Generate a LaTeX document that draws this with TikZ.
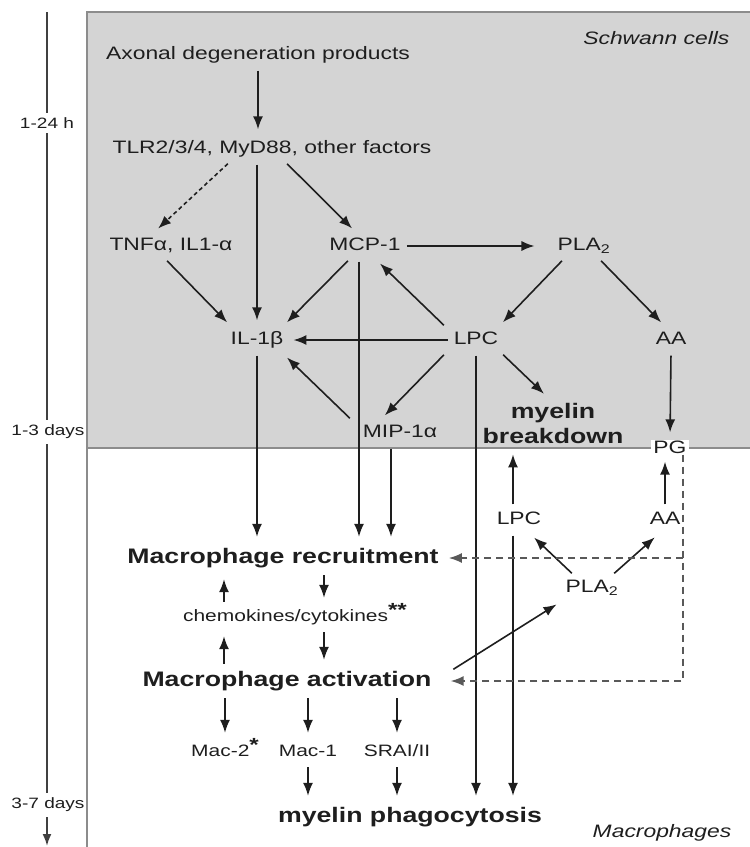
\documentclass[tikz,border=0pt]{standalone}
\usepackage{fontspec}
\setmainfont[FakeStretch=1.27]{Liberation Sans}
\usetikzlibrary{arrows.meta}
\definecolor{cellgray}{HTML}{D4D4D4}
\definecolor{edgegray}{HTML}{8C8C8C}
\definecolor{inkgray}{HTML}{1E1E1E}
\newcommand{\starmark}[1]{\raisebox{5pt}{\fontsize{19}{19}\selectfont\bfseries #1}}

\begin{document}
\begin{tikzpicture}[x=1pt,y=-1pt]
\tikzstyle{lbl}=[text=inkgray, font=\fontsize{18}{21}\selectfont, text height=13pt, text depth=4pt, inner xsep=3pt, inner ysep=4pt]
\tikzstyle{lblsmall}=[lbl, font=\fontsize{16.5}{19}\selectfont, text height=12pt, text depth=4pt]
\tikzstyle{lblbold}=[lbl, font=\bfseries\fontsize{21}{25}\selectfont, text height=15pt, text depth=5pt]
\tikzstyle{twoline}=[text=inkgray, font=\bfseries\fontsize{21}{25}\selectfont, align=center, inner sep=4pt]
\tikzstyle{cellname}=[text=inkgray, font=\itshape\fontsize{18}{21}\selectfont]
\tikzstyle{timemark}=[text=inkgray, fill=white, font=\fontsize{15}{18}\selectfont, inner xsep=1pt, inner ysep=5pt]
\tikzstyle{arr}=[-{Latex[length=13pt,width=10pt]}, draw=inkgray, line width=1.6pt, shorten >=7pt, shorten <=3pt]
\tikzstyle{dasharr}=[arr, draw=black!65, dash pattern=on 7pt off 5pt]
\useasboundingbox (0,0) rectangle (750,847);

% cell compartments
\fill[cellgray] (87,12) rectangle (750,448);
\draw[edgegray, line width=2pt] (750,12) -- (87,12) -- (87,847);
\draw[edgegray, line width=2pt] (87,448) -- (750,448);

% time line
\coordinate (ttop) at (47,12);
\coordinate (tend) at (47,846);
\draw[-{Latex[length=12pt,width=9pt]}, draw=black!75, line width=2pt] (ttop) -- (tend);
\node[timemark] (t1) at (47,123) {1-24 h};
\node[timemark] (t2) at (48,432) {1-3 days};
\node[timemark] (t3) at (48,805) {3-7 days};

\node[cellname, anchor=east] (schwann) at (733,38) {Schwann cells};
\node[cellname] (macs) at (662,833) {Macrophages};

% Schwann cells
\node[lbl] (axon) at (258,55) {Axonal degeneration products};
\node[lbl] (tlr) at (272,149) {TLR2/3/4, MyD88, other factors};
\node[lbl] (tnf) at (171,246) {TNFα, IL1-α};
\node[lbl] (mcp) at (365,246) {MCP-1};
\node[lbl] (plaS) at (584,246) {PLA\textsubscript{2}};
\node[lbl] (ilb) at (257,340) {IL-1β};
\node[lbl] (lpcS) at (476,340) {LPC};
\node[lbl] (aaS) at (671,340) {AA};
\node[lbl] (mip) at (400,433) {MIP-1α};
\node[twoline] (myb) at (553,423) {myelin\\breakdown};
\node[lbl, fill=white, inner xsep=2pt, inner ysep=1pt, text depth=0pt] (pg) at (670,447) {PG};

% macrophages
\node[lbl] (lpcM) at (519,520) {LPC};
\node[lbl] (aaM) at (665,520) {AA};
\node[lbl] (plaM) at (592,588) {PLA\textsubscript{2}};
\node[lblbold] (rec) at (283,558) {Macrophage recruitment};
\node[lblsmall] (chem) at (295,617) {chemokines/cytokines\starmark{**}};
\node[lblbold] (act) at (287,681) {Macrophage activation};
\node[lblsmall] (mac2) at (225,752) {Mac-2\starmark{*}};
\node[lblsmall] (mac1) at (308,752) {Mac-1};
\node[lblsmall] (sra) at (397,752) {SRAI/II};
\node[lblbold] (phag) at (410,817) {myelin phagocytosis};

\draw[arr] (axon.south) -- (axon.south |- tlr.north);
\draw[arr, dash pattern=on 4pt off 3pt] ([xshift=-42pt]tlr.south) -- ([xshift=-18pt]tnf.north);
\draw[arr] (tlr.south -| ilb.north) -- (ilb.north);
\draw[arr] ([xshift=13pt]tlr.south) -- ([xshift=-8pt]mcp.north);
\draw[arr, shorten >=20pt] (mcp.east) -- (plaS.west);
\draw[arr] ([xshift=-6pt]tnf.south) -- ([xshift=-25pt]ilb.north);
\draw[arr] ([xshift=-15pt]mcp.south) -- ([xshift=25pt]ilb.north);
\draw[arr] ([xshift=-6pt]mcp.south) coordinate (mcpdown) -- (mcpdown |- rec.north);
\draw[arr] ([xshift=-30pt]lpcS.north) -- ([xshift=10pt]mcp.south);
\draw[arr] ([xshift=-20pt]plaS.south) -- ([xshift=22pt]lpcS.north);
\draw[arr] ([xshift=15pt]plaS.south) -- ([xshift=-5pt]aaS.north);
\draw[arr] (lpcS.west) -- (ilb.east);
\draw[arr] ([xshift=-30pt]lpcS.south) -- ([xshift=-20pt]mip.north);
\draw[arr] ([xshift=-48pt]mip.north) -- ([xshift=25pt]ilb.south);
\draw[arr] ([xshift=25pt]lpcS.south) -- ([xshift=-4pt]myb.north);
\draw[arr] (lpcS.south) -- (lpcS.south |- phag.north);
\draw[arr] (aaS.south) -- (pg.north);
\draw[arr] (ilb.south) -- (ilb.south |- rec.north);
\draw[arr] ([xshift=-9pt]mip.south) coordinate (mipdown) -- (mipdown |- rec.north);

\draw[arr] ([xshift=-6pt]lpcM.north) coordinate (lpcup) -- (lpcup |- myb.south);
\draw[arr] ([xshift=-6pt]lpcM.south) coordinate (lpcdown) -- (lpcdown |- phag.north);
\draw[arr] (aaM.north) -- (aaM.north |- pg.south);
\draw[arr] ([xshift=-18pt]plaM.north) -- ([xshift=10pt]lpcM.south);
\draw[arr] ([xshift=20pt]plaM.north) -- ([xshift=-5pt]aaM.south);
\draw[arr, shorten <=22pt] (act.east) -- (plaM.south west);

\draw[arr] ([xshift=-71pt]chem.north) coordinate (c1) -- (c1 |- rec.south);
\draw[arr] ([xshift=41pt]rec.south) coordinate (c2) -- (c2 |- chem.north);
\draw[arr] ([xshift=-63pt]act.north) coordinate (c3) -- (c3 |- chem.south);
\draw[arr] ([xshift=29pt]chem.south) coordinate (c4) -- (c4 |- act.north);
\draw[arr] (act.south -| mac2.north) -- (mac2.north);
\draw[arr] (act.south -| mac1.north) -- (mac1.north);
\draw[arr] (act.south -| sra.north) -- (sra.north);
\draw[arr] (mac1.south) -- (mac1.south |- phag.north);
\draw[arr] (sra.south) -- (sra.south |- phag.north);

% prostaglandin feedback
\draw[dasharr, shorten <=0pt, shorten >=16pt] ([xshift=13pt]pg.south) coordinate (pgdrop) -- (pgdrop |- act.east) -- (act.east);
\draw[dasharr, shorten <=0pt] (pgdrop |- rec.east) -- (rec.east);
\end{tikzpicture}
\end{document}
